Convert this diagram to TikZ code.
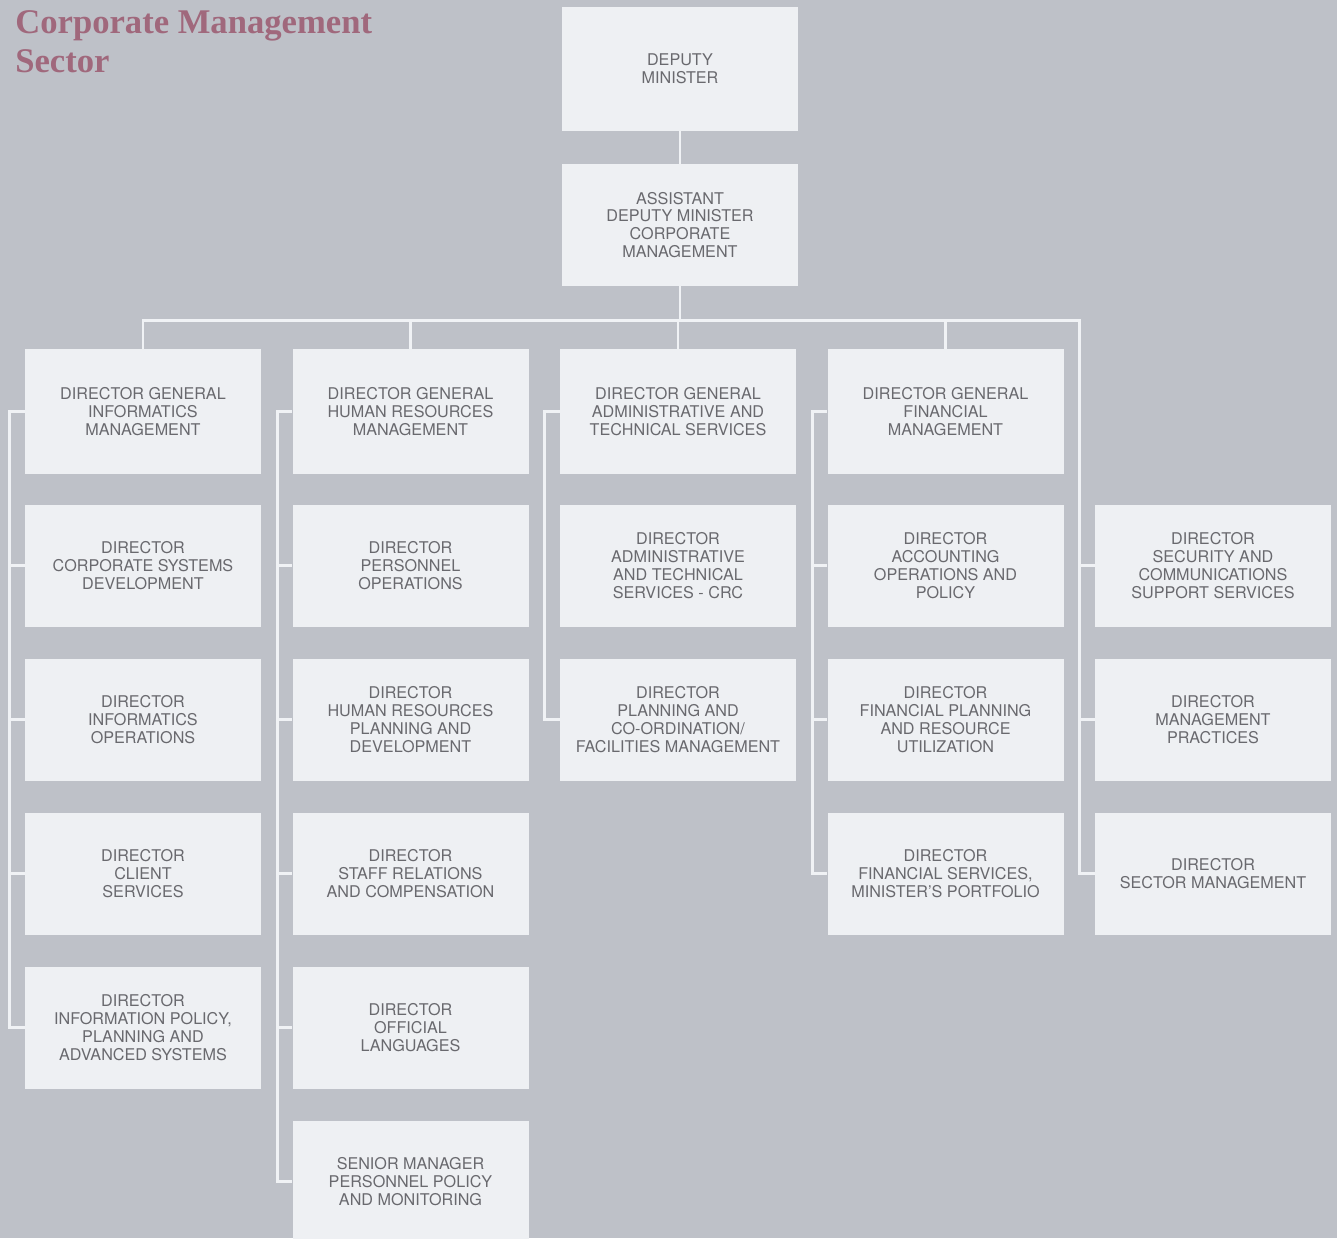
\documentclass[tikz,border=0pt]{standalone}
\usepackage{fontspec}
\setmainfont{TeX Gyre Heros}
\newfontfamily\titlefont{Liberation Serif}
\usetikzlibrary{positioning}
\definecolor{chartbg}{RGB}{190,193,200}
\definecolor{boxfill}{RGB}{238,240,243}
\definecolor{boxtext}{RGB}{105,105,110}
\definecolor{titlecol}{RGB}{160,104,124}
\definecolor{linkcol}{RGB}{240,242,245}
\begin{document}
\begin{tikzpicture}[node distance=3.08cm and 5.35cm,on grid,
    unit/.style={fill=boxfill,text=boxtext,minimum width=4.72cm,minimum height=2.44cm,
      align=center,inner sep=0pt,font=\fontsize{9.2}{10.2}\selectfont},
    dgunit/.style={unit,minimum height=2.5cm},
    link/.style={draw=linkcol,line width=1.6pt}]
  \fill[chartbg] (0,0) rectangle (26.74,-24.76);
  \useasboundingbox (0,0) rectangle (26.74,-24.76);
  \node[anchor=north west,inner sep=0pt,text=titlecol,align=left,
    font=\titlefont\bfseries\fontsize{19.7}{22.5}\selectfont] (title) at (0.3,-0.2)
    {Corporate Management\\Sector};

  % top of the sector
  \node[unit,minimum height=2.48cm] (dm) at (13.6,-1.38) {DEPUTY\\MINISTER};
  \node[unit]  (adm) [below=3.12cm of dm] {ASSISTANT\\DEPUTY MINISTER\\CORPORATE\\MANAGEMENT};

  % directors general
  \node[dgunit] (dgi) at (2.86,-8.23)  {DIRECTOR GENERAL\\INFORMATICS\\MANAGEMENT};
  \node[dgunit] (dgh) [right=of dgi]   {DIRECTOR GENERAL\\HUMAN RESOURCES\\MANAGEMENT};
  \node[dgunit] (dga) [right=of dgh]   {DIRECTOR GENERAL\\ADMINISTRATIVE AND\\TECHNICAL SERVICES};
  \node[dgunit] (dgf) [right=of dga]   {DIRECTOR GENERAL\\FINANCIAL\\MANAGEMENT};

  % informatics
  \node[unit] (dcs) [below=of dgi] {DIRECTOR\\CORPORATE SYSTEMS\\DEVELOPMENT};
  \node[unit] (dio) [below=of dcs] {DIRECTOR\\INFORMATICS\\OPERATIONS};
  \node[unit] (dcl) [below=of dio] {DIRECTOR\\CLIENT\\SERVICES};
  \node[unit] (dip) [below=of dcl] {DIRECTOR\\INFORMATION POLICY,\\PLANNING AND\\ADVANCED SYSTEMS};

  % human resources
  \node[unit] (dpo) [below=of dgh] {DIRECTOR\\PERSONNEL\\OPERATIONS};
  \node[unit] (dhr) [below=of dpo] {DIRECTOR\\HUMAN RESOURCES\\PLANNING AND\\DEVELOPMENT};
  \node[unit] (dsr) [below=of dhr] {DIRECTOR\\STAFF RELATIONS\\AND COMPENSATION};
  \node[unit] (dol) [below=of dsr] {DIRECTOR\\OFFICIAL\\LANGUAGES};
  \node[unit] (smp) [below=of dol] {SENIOR MANAGER\\PERSONNEL POLICY\\AND MONITORING};

  % administrative and technical
  \node[unit] (dat) [below=of dga] {DIRECTOR\\ADMINISTRATIVE\\AND TECHNICAL\\SERVICES - CRC};
  \node[unit] (dpc) [below=of dat] {DIRECTOR\\PLANNING AND\\CO-ORDINATION/\\FACILITIES MANAGEMENT};

  % financial
  \node[unit] (dao) [below=of dgf] {DIRECTOR\\ACCOUNTING\\OPERATIONS AND\\POLICY};
  \node[unit] (dfp) [below=of dao] {DIRECTOR\\FINANCIAL PLANNING\\AND RESOURCE\\UTILIZATION};
  \node[unit] (dfs) [below=of dfp] {DIRECTOR\\FINANCIAL SERVICES,\\MINISTER'S PORTFOLIO};

  % reporting straight to the ADM
  \node[unit] (dss) [below right=of dgf] {DIRECTOR\\SECURITY AND\\COMMUNICATIONS\\SUPPORT SERVICES};
  \node[unit] (dmp) [below=of dss] {DIRECTOR\\MANAGEMENT\\PRACTICES};
  \node[unit] (dsm) [below=of dmp] {DIRECTOR\\SECTOR MANAGEMENT};

  % connectors
  \draw[link] (dm.south) -- (adm.north);
  \draw[link] (adm.south) -- ++(0,-0.68) coordinate (hub);
  \path (dss.west) ++(-0.3,0) coordinate (spine);
  \coordinate (barend) at (spine |- hub);
  \draw[link] (dgi.north) |- (barend) |- (dsm.west);
  \foreach \n in {dgh,dga,dgf}
    \draw[link] (\n.north) -- (\n.north |- hub);
  \foreach \n in {dss,dmp}
    \draw[link] (\n.west) -- (\n.west -| barend);
  \foreach \top/\bot in {dgi/dip,dgh/smp,dga/dpc,dgf/dfs}
    \draw[link] (\top.west) -- ++(-0.3,0) |- (\bot.west);
  \foreach \n in {dcs,dio,dcl,dpo,dhr,dsr,dol,dao,dfp}
    \draw[link] (\n.west) -- ++(-0.3,0);
\end{tikzpicture}
\end{document}
